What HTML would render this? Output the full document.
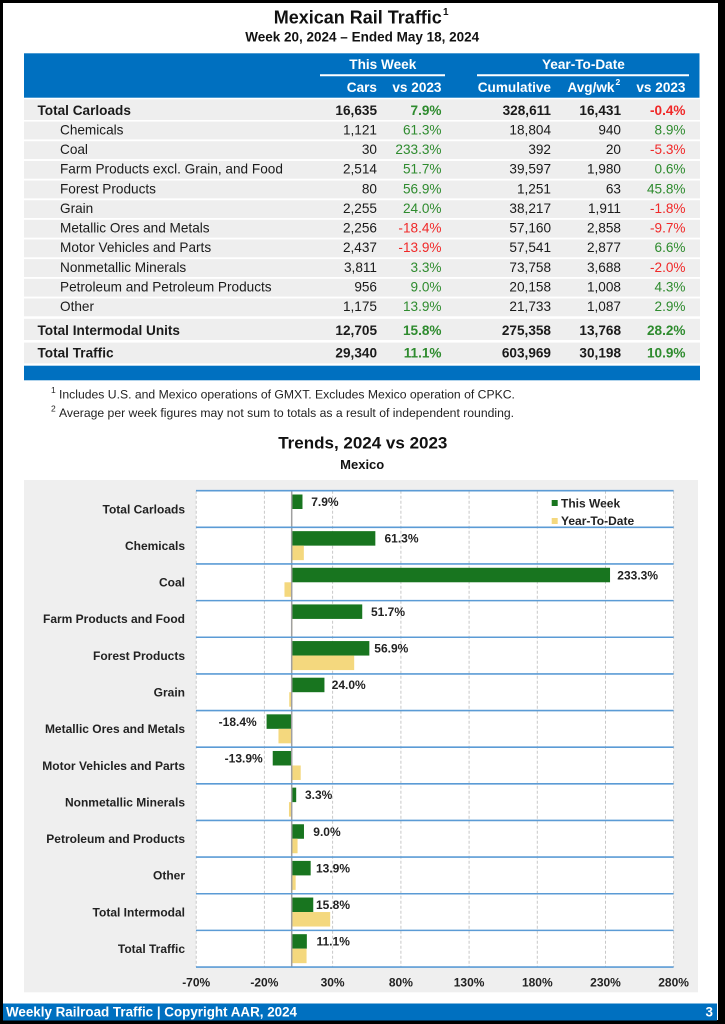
<!DOCTYPE html>
<html><head><meta charset="utf-8"><style>
html,body{margin:0;padding:0;background:#000;}
svg{display:block;}
text{font-family:"Liberation Sans",Arial,Helvetica,sans-serif;}
</style></head><body>
<svg width="725" height="1024" viewBox="0 0 725 1024" xmlns="http://www.w3.org/2000/svg">
<rect x="0" y="0" width="725" height="1024" fill="#000"/>
<rect x="3" y="3" width="715" height="1017" fill="#fff"/>

<!-- Title -->
<text x="357.8" y="23.3" font-size="18" font-weight="bold" text-anchor="middle" fill="#111">Mexican Rail Traffic</text>
<text x="443" y="15" font-size="10" font-weight="bold" fill="#111">1</text>
<text x="362.2" y="41.7" font-size="13.5" font-weight="bold" text-anchor="middle" fill="#111">Week 20, 2024 – Ended May 18, 2024</text>

<!-- Table header -->
<rect x="24" y="53.3" width="675.5" height="44.4" fill="#0070c0"/>
<g fill="#fff" font-size="13.6" font-weight="bold">
<text x="382.8" y="68.9" text-anchor="middle">This Week</text>
<text x="583.4" y="68.9" text-anchor="middle">Year-To-Date</text>
<text x="377" y="92.2" text-anchor="end">Cars</text>
<text x="441.5" y="92.2" text-anchor="end">vs 2023</text>
<text x="551" y="92.2" text-anchor="end">Cumulative</text>
<text x="614.5" y="92.2" text-anchor="end">Avg/wk</text>
<text x="615.5" y="85" font-size="8.5">2</text>
<text x="685.5" y="92.2" text-anchor="end">vs 2023</text>
</g>
<line x1="320" y1="75.3" x2="445" y2="75.3" stroke="#fff" stroke-width="2"/>
<line x1="477" y1="75.3" x2="689" y2="75.3" stroke="#fff" stroke-width="2"/>

<!-- Table rows background -->
<g fill="#eeeeee">
<rect x="24" y="99.3" width="676" height="20.7"/>
<rect x="24" y="121.6" width="676" height="17.8"/>
<rect x="24" y="141.25" width="676" height="17.8"/>
<rect x="24" y="160.9" width="676" height="17.8"/>
<rect x="24" y="180.55" width="676" height="17.8"/>
<rect x="24" y="200.2" width="676" height="17.8"/>
<rect x="24" y="219.85" width="676" height="17.8"/>
<rect x="24" y="239.5" width="676" height="17.8"/>
<rect x="24" y="259.15" width="676" height="17.8"/>
<rect x="24" y="278.8" width="676" height="17.8"/>
<rect x="24" y="298.45" width="676" height="17.8"/>
<rect x="24" y="318.8" width="676" height="21.2"/>
<rect x="24" y="342.6" width="676" height="20.8"/>
</g>
<rect x="24" y="365.7" width="676" height="14.6" fill="#0070c0"/>

<!-- Table text -->
<g font-size="13.6" fill="#1a1a1a">
<!-- Total Carloads -->
<g font-weight="bold">
<text x="37.5" y="115">Total Carloads</text>
<text x="377" y="115" text-anchor="end">16,635</text>
<text x="441.5" y="115" text-anchor="end" fill="#2e8b2e">7.9%</text>
<text x="551" y="115" text-anchor="end">328,611</text>
<text x="621" y="115" text-anchor="end">16,431</text>
<text x="685.5" y="115" text-anchor="end" fill="#f02828">-0.4%</text>
</g>
<!-- Sub rows -->
<text x="60" y="134.3">Chemicals</text>
<text x="377" y="134.3" text-anchor="end">1,121</text>
<text x="441.5" y="134.3" text-anchor="end" fill="#2e8b2e">61.3%</text>
<text x="551" y="134.3" text-anchor="end">18,804</text>
<text x="621" y="134.3" text-anchor="end">940</text>
<text x="685.5" y="134.3" text-anchor="end" fill="#2e8b2e">8.9%</text>

<text x="60" y="153.95">Coal</text>
<text x="377" y="153.95" text-anchor="end">30</text>
<text x="441.5" y="153.95" text-anchor="end" fill="#2e8b2e">233.3%</text>
<text x="551" y="153.95" text-anchor="end">392</text>
<text x="621" y="153.95" text-anchor="end">20</text>
<text x="685.5" y="153.95" text-anchor="end" fill="#f02828">-5.3%</text>

<text x="60" y="173.6">Farm Products excl. Grain, and Food</text>
<text x="377" y="173.6" text-anchor="end">2,514</text>
<text x="441.5" y="173.6" text-anchor="end" fill="#2e8b2e">51.7%</text>
<text x="551" y="173.6" text-anchor="end">39,597</text>
<text x="621" y="173.6" text-anchor="end">1,980</text>
<text x="685.5" y="173.6" text-anchor="end" fill="#2e8b2e">0.6%</text>

<text x="60" y="193.25">Forest Products</text>
<text x="377" y="193.25" text-anchor="end">80</text>
<text x="441.5" y="193.25" text-anchor="end" fill="#2e8b2e">56.9%</text>
<text x="551" y="193.25" text-anchor="end">1,251</text>
<text x="621" y="193.25" text-anchor="end">63</text>
<text x="685.5" y="193.25" text-anchor="end" fill="#2e8b2e">45.8%</text>

<text x="60" y="212.9">Grain</text>
<text x="377" y="212.9" text-anchor="end">2,255</text>
<text x="441.5" y="212.9" text-anchor="end" fill="#2e8b2e">24.0%</text>
<text x="551" y="212.9" text-anchor="end">38,217</text>
<text x="621" y="212.9" text-anchor="end">1,911</text>
<text x="685.5" y="212.9" text-anchor="end" fill="#f02828">-1.8%</text>

<text x="60" y="232.55">Metallic Ores and Metals</text>
<text x="377" y="232.55" text-anchor="end">2,256</text>
<text x="441.5" y="232.55" text-anchor="end" fill="#f02828">-18.4%</text>
<text x="551" y="232.55" text-anchor="end">57,160</text>
<text x="621" y="232.55" text-anchor="end">2,858</text>
<text x="685.5" y="232.55" text-anchor="end" fill="#f02828">-9.7%</text>

<text x="60" y="252.2">Motor Vehicles and Parts</text>
<text x="377" y="252.2" text-anchor="end">2,437</text>
<text x="441.5" y="252.2" text-anchor="end" fill="#f02828">-13.9%</text>
<text x="551" y="252.2" text-anchor="end">57,541</text>
<text x="621" y="252.2" text-anchor="end">2,877</text>
<text x="685.5" y="252.2" text-anchor="end" fill="#2e8b2e">6.6%</text>

<text x="60" y="271.85">Nonmetallic Minerals</text>
<text x="377" y="271.85" text-anchor="end">3,811</text>
<text x="441.5" y="271.85" text-anchor="end" fill="#2e8b2e">3.3%</text>
<text x="551" y="271.85" text-anchor="end">73,758</text>
<text x="621" y="271.85" text-anchor="end">3,688</text>
<text x="685.5" y="271.85" text-anchor="end" fill="#f02828">-2.0%</text>

<text x="60" y="291.5">Petroleum and Petroleum Products</text>
<text x="377" y="291.5" text-anchor="end">956</text>
<text x="441.5" y="291.5" text-anchor="end" fill="#2e8b2e">9.0%</text>
<text x="551" y="291.5" text-anchor="end">20,158</text>
<text x="621" y="291.5" text-anchor="end">1,008</text>
<text x="685.5" y="291.5" text-anchor="end" fill="#2e8b2e">4.3%</text>

<text x="60" y="311.15">Other</text>
<text x="377" y="311.15" text-anchor="end">1,175</text>
<text x="441.5" y="311.15" text-anchor="end" fill="#2e8b2e">13.9%</text>
<text x="551" y="311.15" text-anchor="end">21,733</text>
<text x="621" y="311.15" text-anchor="end">1,087</text>
<text x="685.5" y="311.15" text-anchor="end" fill="#2e8b2e">2.9%</text>

<g font-weight="bold">
<text x="37.5" y="335">Total Intermodal Units</text>
<text x="377" y="335" text-anchor="end">12,705</text>
<text x="441.5" y="335" text-anchor="end" fill="#2e8b2e">15.8%</text>
<text x="551" y="335" text-anchor="end">275,358</text>
<text x="621" y="335" text-anchor="end">13,768</text>
<text x="685.5" y="335" text-anchor="end" fill="#2e8b2e">28.2%</text>

<text x="37.5" y="357.7">Total Traffic</text>
<text x="377" y="357.7" text-anchor="end">29,340</text>
<text x="441.5" y="357.7" text-anchor="end" fill="#2e8b2e">11.1%</text>
<text x="551" y="357.7" text-anchor="end">603,969</text>
<text x="621" y="357.7" text-anchor="end">30,198</text>
<text x="685.5" y="357.7" text-anchor="end" fill="#2e8b2e">10.9%</text>
</g>
</g>

<!-- Footnotes -->
<g fill="#222" font-size="12.2">
<text x="51" y="393" font-size="8.5">1</text>
<text x="59" y="398.3">Includes U.S. and Mexico operations of GMXT. Excludes Mexico operation of CPKC.</text>
<text x="51" y="411.7" font-size="8.5">2</text>
<text x="59" y="417">Average per week figures may not sum to totals as a result of independent rounding.</text>
</g>

<!-- Chart titles -->
<text x="362.8" y="448.3" font-size="17" font-weight="bold" text-anchor="middle" fill="#111">Trends, 2024 vs 2023</text>
<text x="362.2" y="469" font-size="13" font-weight="bold" text-anchor="middle" fill="#111">Mexico</text>

<!-- Chart background -->
<rect x="24" y="480" width="674" height="512.3" fill="#efefef"/>
<rect x="196" y="490.7" width="477.6" height="476.3" fill="#fff"/>

<!-- vertical gridlines -->
<g stroke="#c8c8c8" stroke-width="1" stroke-dasharray="3,2">
<line x1="196.2" y1="490.7" x2="196.2" y2="967"/>
<line x1="264.4" y1="490.7" x2="264.4" y2="967"/>
<line x1="332.6" y1="490.7" x2="332.6" y2="967"/>
<line x1="400.9" y1="490.7" x2="400.9" y2="967"/>
<line x1="469.1" y1="490.7" x2="469.1" y2="967"/>
<line x1="537.3" y1="490.7" x2="537.3" y2="967"/>
<line x1="605.5" y1="490.7" x2="605.5" y2="967"/>
<line x1="673.6" y1="490.7" x2="673.6" y2="967"/>
</g>

<!-- Bars: This Week (green) -->
<g fill="#18751f">
<rect x="291.7" y="494.5" width="10.78" height="14.5"/>
<rect x="291.7" y="531.14" width="83.64" height="14.5"/>
<rect x="291.7" y="567.78" width="318.34" height="14.5"/>
<rect x="291.7" y="604.42" width="70.54" height="14.5"/>
<rect x="291.7" y="641.06" width="77.64" height="14.5"/>
<rect x="291.7" y="677.7" width="32.75" height="14.5"/>
<rect x="266.59" y="714.34" width="25.11" height="14.5"/>
<rect x="272.73" y="750.98" width="18.97" height="14.5"/>
<rect x="291.7" y="787.62" width="4.5" height="14.5"/>
<rect x="291.7" y="824.26" width="12.28" height="14.5"/>
<rect x="291.7" y="860.9" width="18.97" height="14.5"/>
<rect x="291.7" y="897.54" width="21.56" height="14.5"/>
<rect x="291.7" y="934.18" width="15.15" height="14.5"/>
</g>
<!-- Bars: YTD (yellow) -->
<g fill="#f4d87e">
<rect x="291.15" y="509" width="0.55" height="14.5"/>
<rect x="291.7" y="545.64" width="12.14" height="14.5"/>
<rect x="284.47" y="582.28" width="7.23" height="14.5"/>
<rect x="291.7" y="618.92" width="0.82" height="14.5"/>
<rect x="291.7" y="655.56" width="62.49" height="14.5"/>
<rect x="289.24" y="692.2" width="2.46" height="14.5"/>
<rect x="278.46" y="728.84" width="13.24" height="14.5"/>
<rect x="291.7" y="765.48" width="9.01" height="14.5"/>
<rect x="288.97" y="802.12" width="2.73" height="14.5"/>
<rect x="291.7" y="838.76" width="5.87" height="14.5"/>
<rect x="291.7" y="875.4" width="3.96" height="14.5"/>
<rect x="291.7" y="912.04" width="38.48" height="14.5"/>
<rect x="291.7" y="948.68" width="14.87" height="14.5"/>
</g>

<!-- zero line -->
<line x1="291.7" y1="490.7" x2="291.7" y2="967" stroke="#a0a0a0" stroke-width="1.5"/>

<!-- horizontal blue lines -->
<g stroke="#5b9bd5" stroke-width="1.6">
<line x1="196" y1="490.7" x2="673.6" y2="490.7"/>
<line x1="196" y1="527.34" x2="673.6" y2="527.34"/>
<line x1="196" y1="563.98" x2="673.6" y2="563.98"/>
<line x1="196" y1="600.62" x2="673.6" y2="600.62"/>
<line x1="196" y1="637.26" x2="673.6" y2="637.26"/>
<line x1="196" y1="673.9" x2="673.6" y2="673.9"/>
<line x1="196" y1="710.54" x2="673.6" y2="710.54"/>
<line x1="196" y1="747.18" x2="673.6" y2="747.18"/>
<line x1="196" y1="783.82" x2="673.6" y2="783.82"/>
<line x1="196" y1="820.46" x2="673.6" y2="820.46"/>
<line x1="196" y1="857.1" x2="673.6" y2="857.1"/>
<line x1="196" y1="893.74" x2="673.6" y2="893.74"/>
<line x1="196" y1="930.38" x2="673.6" y2="930.38"/>
<line x1="196" y1="967.02" x2="673.6" y2="967.02"/>
</g>

<!-- data labels -->
<g font-size="12" font-weight="bold" fill="#222">
<text x="311.2" y="506">7.9%</text>
<text x="384.5" y="542.6">61.3%</text>
<text x="617.3" y="579.3">233.3%</text>
<text x="371" y="615.9">51.7%</text>
<text x="374.3" y="652.6">56.9%</text>
<text x="331.7" y="689.2">24.0%</text>
<text x="256.7" y="725.8" text-anchor="end">-18.4%</text>
<text x="262.7" y="762.5" text-anchor="end">-13.9%</text>
<text x="305" y="799.1">3.3%</text>
<text x="313.3" y="835.8">9.0%</text>
<text x="316" y="872.4">13.9%</text>
<text x="316" y="909">15.8%</text>
<text x="316.5" y="945.7">11.1%</text>
</g>

<!-- category labels -->
<g font-size="12" font-weight="bold" fill="#222" text-anchor="end">
<text x="185" y="513.3">Total Carloads</text>
<text x="185" y="549.9">Chemicals</text>
<text x="185" y="586.6">Coal</text>
<text x="185" y="623.2">Farm Products and Food</text>
<text x="185" y="659.9">Forest Products</text>
<text x="185" y="696.5">Grain</text>
<text x="185" y="733.1">Metallic Ores and Metals</text>
<text x="185" y="769.8">Motor Vehicles and Parts</text>
<text x="185" y="806.4">Nonmetallic Minerals</text>
<text x="185" y="843.1">Petroleum and Products</text>
<text x="185" y="879.7">Other</text>
<text x="185" y="916.3">Total Intermodal</text>
<text x="185" y="953">Total Traffic</text>
</g>

<!-- legend -->
<rect x="551.7" y="500" width="6" height="6" fill="#18751f"/>
<text x="561" y="507.3" font-size="12" font-weight="bold" fill="#222">This Week</text>
<rect x="551.7" y="518" width="6" height="6" fill="#f4d87e"/>
<text x="561" y="525" font-size="12" font-weight="bold" fill="#222">Year-To-Date</text>

<!-- x-axis labels -->
<g font-size="12" font-weight="bold" fill="#222" text-anchor="middle">
<text x="196.2" y="986.6">-70%</text>
<text x="264.4" y="986.6">-20%</text>
<text x="332.6" y="986.6">30%</text>
<text x="400.9" y="986.6">80%</text>
<text x="469.1" y="986.6">130%</text>
<text x="537.3" y="986.6">180%</text>
<text x="605.5" y="986.6">230%</text>
<text x="673.6" y="986.6">280%</text>
</g>

<!-- footer -->
<rect x="3" y="1003.5" width="714" height="17" fill="#0070c0"/>
<text x="6" y="1016.5" font-size="13.4" font-weight="bold" fill="#fff">Weekly Railroad Traffic | Copyright AAR, 2024</text>
<text x="713" y="1016.5" font-size="13.4" font-weight="bold" fill="#fff" text-anchor="end">3</text>
</svg>
</body></html>
